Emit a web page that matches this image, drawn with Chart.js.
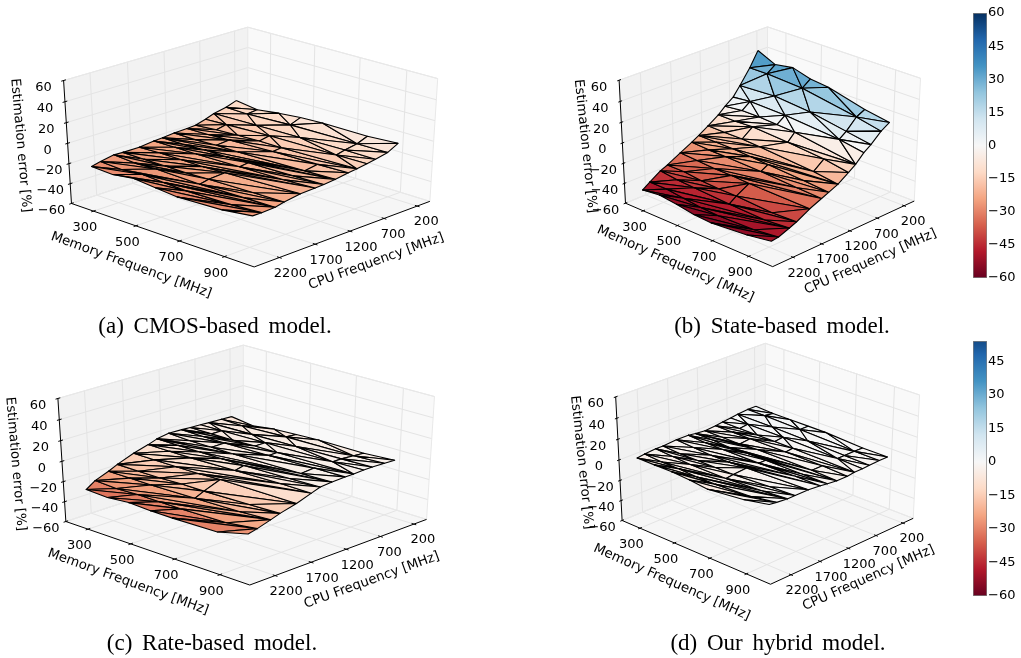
<!DOCTYPE html>
<html><head><meta charset="utf-8">
<style>html,body{margin:0;padding:0;background:#fff;overflow:hidden}canvas{position:absolute;display:block}</style>
<script src="https://cdn.jsdelivr.net/npm/chart.js@4/dist/chart.umd.min.js"></script>
</head><body>
<canvas id="main" width="1021" height="658" style="left:0;top:0"></canvas>
<canvas id="cb1" style="left:973px;top:3px"></canvas>
<canvas id="cb2" style="left:973px;top:331px"></canvas>
<script>
const cpuLevels=[200,350,530,655,800,923,1109,1274,1398,1604,1831,1955,2141,2265];
const memLevels=[200,300,400,500,600,800,933];
const rowMask=["1111111","1101011","1010111","1101011","1111101","1110111","1111011","1111111","1110111","1111101","1111111","1110111","1111111","1111111"];
const fanSpan=[1,1,1,1,2,2,3,2,3,2,2,3,2];
const zCmos=[[-9,-12,-9,-7,-6,-6,-4],[-12.5,-13,-12,-11,-10,-10,-9.5],[-15,-15,-14,-13,-13,-12,-12],[-18,-17,-16,-15,-15,-14,-13.5],[-21,-19,-18,-17,-17,-16,-15],[-21.5,-21,-20,-19,-18,-17,-16],[-22,-22,-21,-21,-20,-19,-18],[-23,-23,-22,-22,-21,-20,-19],[-23.5,-23,-23,-23,-22,-21,-19.5],[-25,-24,-24,-24,-23,-22,-20],[-25,-25,-25,-25,-24,-23,-22.5],[-24.5,-26,-25,-26,-26,-25,-24.5],[-27,-28,-26,-27,-28,-27,-25],[-29,-30,-27,-29,-31,-29,-25]];
const zState=[[41,33,36,31,29,20,16],[27,27,26,25,23,16,11],[13,14,15,13,12,6,2],[4,6,6,5,5,1,-3],[-2,0,0,-1,-2,-7,-11],[-8,-8,-7,-8,-9,-12,-16],[-15,-15,-15,-16,-16,-20,-23],[-21,-21,-21,-22,-23,-25,-27],[-25,-26,-26,-26,-27,-29,-30],[-31,-32,-33,-33,-34,-35,-35],[-38,-38,-40,-41,-41,-43,-42],[-41,-43,-44,-46,-46,-47,-45],[-48,-48,-50,-52,-53,-52,-49],[-53,-51,-53,-56,-57,-54,-50]];
const zRate=[[-7,-10,-7,-6,-5,-5,-3],[-6.5,-7,-6,-5,-5,-4,-2.5],[-6,-6,-5,-5,-4,-3,-2],[-5.5,-5,-5,-4,-4,-3,-2],[-5,-5,-5,-4,-4,-3,-2.5],[-4.5,-5,-5,-5,-4,-3,-2.5],[-4,-5,-5,-5,-5,-4,-3],[-6,-6,-6,-6,-6,-5,-4],[-9,-9,-9,-9,-8,-7,-7],[-13,-13,-13,-13,-12,-12,-12],[-19,-19,-19,-18,-18,-17,-16],[-23,-23,-23,-23,-22,-21,-19],[-28,-29,-28,-28,-28,-27,-23],[-34,-35,-33,-34,-34,-33,-25]];
const zHybrid=[[2,1,1,1,1,-1,-1],[2,2,1,1,0,-1,-1],[1,1,1,0,0,-1,-1.5],[0,0,0,0,-1,-1,-2],[-1,-1,-1,-1,-1,-2,-2],[-2,-2,-2,-2,-2,-2,-3],[-3,-3,-3,-2,-2,-2,-3],[-2,-2,-3,-2,-2,-2,-2],[-1,-2,-2,-2,-2,-1,-1],[-1,-2,-3,-3,-2,-1,0],[-2,-3,-3,-3,-3,-1,0],[-2,-3,-4,-4,-4,-2,0],[-3,-4,-4,-5,-5,-3,1],[-4,-4,-4,-5,-7,-3,2]];
const zTicks=[60,40,20,0,-20,-40,-60];
const memTicks=[300,500,700,900];
const cpuTicks=[200,700,1200,1700,2200];
const cbTicks=[60,45,30,15,0,-15,-30,-45,-60];
const captions=["(a) CMOS-based model.","(b) State-based model.","(c) Rate-based model.","(d) Our hybrid model."];
const rdbu=["#67001f","#b2182b","#d6604d","#f4a582","#fddbc7","#f7f7f7","#d1e5f0","#92c5de","#4393c3","#2166ac","#053061"];

const CPU_LIM=[7,2545],MEM_LIM=[194,1029],Z_LIM=[-60,60];
const EL=30*Math.PI/180,AZ=44*Math.PI/180,DIST=10,KZ=0.86;
const panels=[
 {z:zCmos,cx:250.85,cy:142.3,sx:258.9,sy:164.9,cap:[215,327],zOff:[-47,3.5],mOff:[-31.6,30],cOff:[34.2,27.3],ang:[85,20,-20]},
 {z:zState,cx:770,cy:142,sx:208.6,sy:164.9,cap:[782,327],zOff:[-37,4.5],mOff:[-23.7,29],cOff:[27,28],ang:[84,24,-24]},
 {z:zRate,cx:246.4,cy:460.3,sx:260.6,sy:165,cap:[212,644],zOff:[-46.4,4],mOff:[-29.7,28.7],cOff:[33.7,28],ang:[85,20,-20]},
 {z:zHybrid,cx:767.8,cy:459,sx:210.3,sy:165.7,cap:[778,644],zOff:[-37.3,3.7],mOff:[-24.5,30],cOff:[26.7,26.7],ang:[84,24,-24]}
];
function hex(c){return [1,3,5].map(i=>parseInt(c.substr(i,2),16));}
function cmap(t){t=Math.max(0,Math.min(1,t))*(rdbu.length-1);const i=Math.min(Math.floor(t),rdbu.length-2),f=t-i,a=hex(rdbu[i]),b=hex(rdbu[i+1]);
 return `rgb(${a.map((v,k)=>Math.round(v+(b[k]-v)*f)).join(",")})`;}
const zColor=v=>cmap((v-Z_LIM[0])/(Z_LIM[1]-Z_LIM[0]));
const R=[-Math.sin(AZ),Math.cos(AZ),0],U=[-Math.sin(EL)*Math.cos(AZ),-Math.sin(EL)*Math.sin(AZ),Math.cos(EL)],N=[Math.cos(EL)*Math.cos(AZ),Math.cos(EL)*Math.sin(AZ),Math.sin(EL)];
const dot=(a,b)=>a[0]*b[0]+a[1]*b[1]+a[2]*b[2];
function world(cpu,mem,z){return [(cpu-CPU_LIM[0])/(CPU_LIM[1]-CPU_LIM[0])-.5,(mem-MEM_LIM[0])/(MEM_LIM[1]-MEM_LIM[0])-.5,KZ*((z-Z_LIM[0])/(Z_LIM[1]-Z_LIM[0])-.5)];}
function project(p,cpu,mem,z){const w=world(cpu,mem,z),f=DIST/(DIST-dot(w,N));return {x:p.cx+p.sx*f*dot(w,R),y:p.cy-p.sy*f*dot(w,U)};}
function depth(cpu,mem,z){return dot(world(cpu,mem,z),N);}

const datasets=[],texts=[];
function poly(points,fillColor,lineColor,lw){datasets.push({data:points,showLine:true,tension:0,pointRadius:0,pointHoverRadius:0,borderColor:lineColor||'rgba(0,0,0,0)',borderWidth:lw||0,surfaceFill:fillColor||null,borderJoinStyle:'round'});}
const cMin=CPU_LIM[0],cMax=CPU_LIM[1],mMin=MEM_LIM[0],mMax=MEM_LIM[1],zMin=Z_LIM[0],zMax=Z_LIM[1];
function triangles(){const tris=[];const rows=rowMask.map(s=>[...s].map((c,i)=>c==='1'?i:-1).filter(i=>i>=0));
 for(let r=0;r<rows.length-1;r++){const A=rows[r],B=rows[r+1],span=fanSpan[r];let a=0,b=0;
  while(a<A.length-1||b<B.length-1){
   const canA=a<A.length-1,canB=b<B.length-1;
   if(canA&&(!canB||A[a+1]<=B[b]+span)){tris.push([[r,A[a]],[r,A[a+1]],[r+1,B[b]]]);a++;}
   else{tris.push([[r,A[a]],[r+1,B[b+1]],[r+1,B[b]]]);b++;}}}
 return tris;}
const TRIS=triangles();
panels.forEach((p,idx)=>{
 const P=(c,m,z)=>project(p,c,m,z);
 poly([P(cMin,mMin,zMin),P(cMax,mMin,zMin),P(cMax,mMin,zMax),P(cMin,mMin,zMax),P(cMin,mMin,zMin)],'#f2f2f2');
 poly([P(cMin,mMin,zMin),P(cMin,mMax,zMin),P(cMin,mMax,zMax),P(cMin,mMin,zMax),P(cMin,mMin,zMin)],'#f9f9f9');
 poly([P(cMin,mMin,zMin),P(cMax,mMin,zMin),P(cMax,mMax,zMin),P(cMin,mMax,zMin),P(cMin,mMin,zMin)],'#f6f6f6');
 const gc='#e4e4e4';
 zTicks.forEach(z=>{poly([P(cMax,mMin,z),P(cMin,mMin,z),P(cMin,mMax,z)],null,gc,1);});
 memTicks.forEach(m=>{poly([P(cMax,m,zMin),P(cMin,m,zMin),P(cMin,m,zMax)],null,gc,1);});
 cpuTicks.forEach(c=>{poly([P(c,mMax,zMin),P(c,mMin,zMin),P(c,mMin,zMax)],null,gc,1);});
 poly([P(cMax,mMin,zMin),P(cMin,mMin,zMin),P(cMin,mMin,zMax)],null,'#e8e8e8',1);
 poly([P(cMax,mMin,zMax),P(cMin,mMin,zMax),P(cMin,mMax,zMax)],null,'#e8e8e8',1);
 poly([P(cMin,mMax,zMin),P(cMin,mMax,zMax)],null,'#e8e8e8',1);
 poly([P(cMin,mMax,zMin),P(cMin,mMin,zMin),P(cMax,mMin,zMin)],null,'#e8e8e8',1);
 poly([P(cMax,mMin,zMax),P(cMax,mMin,zMin),P(cMax,mMax,zMin),P(cMin,mMax,zMin)],null,'#000',1);
 const dC=(cMax-cMin)*.012,dM=(mMax-mMin)*.012;
 zTicks.forEach(z=>poly([P(cMax+dC,mMin,z),P(cMax-dC,mMin,z)],null,'#000',1));
 memTicks.forEach(m=>poly([P(cMax+dC,m,zMin),P(cMax-dC,m,zMin)],null,'#000',1));
 cpuTicks.forEach(c=>poly([P(c,mMax+dM,zMin),P(c,mMax-dM,zMin)],null,'#000',1));
 const ts=TRIS.map(t=>{const v=t.map(([r,c])=>({c:cpuLevels[r],m:memLevels[c],z:p.z[r][c]}));
  return {v,d:v.reduce((s,a)=>s+depth(a.c,a.m,a.z),0)/3,mz:v.reduce((s,a)=>s+a.z,0)/3};}).sort((a,b)=>a.d-b.d);
 ts.forEach(t=>{const pts=t.v.map(a=>P(a.c,a.m,a.z));pts.push(pts[0]);
  poly(pts,zColor(t.mz),'#000',1.1);});
 const tf='13px "DejaVu Sans"',lf='13.3px "DejaVu Sans"';
 zTicks.forEach(z=>{const q=P(cMax,mMin,z);texts.push({t:String(z).replace('-','\u2212'),x:q.x-20,y:q.y+7,f:tf});});
 memTicks.forEach(m=>{const q=P(cMax,m,zMin);texts.push({t:String(m),x:q.x-8.5,y:q.y+16.5,f:tf});});
 cpuTicks.forEach(c=>{const q=P(c,mMax,zMin);texts.push({t:String(c),x:q.x+(c>1000?11:9),y:q.y+16,f:tf});});
 const a=P(cMax,mMin,zMin),b=P(cMax,mMin,zMax),f=P(cMax,mMax,zMin),r=P(cMin,mMax,zMin);
 texts.push({t:"Estimation error [%]",x:(a.x+b.x)/2+p.zOff[0],y:(a.y+b.y)/2+p.zOff[1],f:lf,r:p.ang[0]});
 texts.push({t:"Memory Frequency [MHz]",x:(a.x+f.x)/2+p.mOff[0],y:(a.y+f.y)/2+p.mOff[1],f:lf,r:p.ang[1]});
 texts.push({t:"CPU Frequency [MHz]",x:(r.x+f.x)/2+p.cOff[0],y:(r.y+f.y)/2+p.cOff[1],f:lf,r:p.ang[2]});
 texts.push({t:captions[idx],x:p.cap[0],y:p.cap[1],f:'23px "Liberation Serif"',sp:true});
});
datasets.forEach((d,i)=>{d.order=datasets.length-i;});
const surfacePlugin={id:'surfacePlugin',
 beforeDatasetDraw(chart,args){const ds=chart.data.datasets[args.index];if(!ds.surfaceFill)return;const pts=args.meta.data,c=chart.ctx;
  c.save();c.beginPath();pts.forEach((e,i)=>i?c.lineTo(e.x,e.y):c.moveTo(e.x,e.y));c.closePath();c.fillStyle=ds.surfaceFill;c.fill();c.restore();},
 afterDraw(chart){const c=chart.ctx;c.save();c.textAlign='center';c.textBaseline='middle';c.fillStyle='#000';
  texts.forEach(t=>{c.save();c.translate(t.x,t.y);if(t.r)c.rotate(t.r*Math.PI/180);c.font=t.f;
   c.letterSpacing='0px';c.wordSpacing=t.sp?'4px':'0px';c.fillText(t.t,0,0);c.restore();});c.restore();}};
const W=1021,H=658;
new Chart(document.getElementById('main'),{type:'scatter',data:{datasets},plugins:[surfacePlugin],
 options:{responsive:false,animation:false,events:[],layout:{padding:0},plugins:{legend:{display:false},tooltip:{enabled:false}},
 scales:{x:{type:'linear',display:false,min:0,max:W},y:{type:'linear',display:false,min:0,max:H,reverse:true}}}});
function colorbar(id,lim,top,bottom){const el=document.getElementById(id);el.width=48;el.height=bottom-top+20;el.style.top=(top-10)+'px';
 new Chart(el,{type:'bar',data:{labels:['c'],datasets:[{data:[lim],barPercentage:1,categoryPercentage:1,borderColor:'#808080',borderWidth:1,borderSkipped:false,
  backgroundColor(ctx){const ch=ctx.chart,ar=ch.chartArea;if(!ar)return '#fff';const g=ch.ctx.createLinearGradient(0,ar.bottom,0,ar.top);
   for(let v=lim[0];v<=lim[1];v+=6)g.addColorStop((v-lim[0])/(lim[1]-lim[0]),zColor(v));return g;}}]},
 options:{responsive:false,animation:false,events:[],layout:{padding:{top:10,bottom:10,left:0,right:0}},plugins:{legend:{display:false},tooltip:{enabled:false}},
 scales:{x:{display:false},y:{position:'right',min:lim[0],max:lim[1],border:{display:false},grid:{display:false,drawTicks:false},
  afterBuildTicks(ax){ax.ticks=cbTicks.filter(v=>v>=lim[0]&&v<=lim[1]).map(v=>({value:v}));},
  afterFit(ax){ax.width=34;},
  ticks:{padding:1,color:'#000',font:{family:'DejaVu Sans',size:13},autoSkip:false,callback:v=>String(v).replace('-','\u2212')}}}}});}
colorbar('cb1',[-60,60],13,278);
colorbar('cb2',[-60,54],341,596);
</script></body></html>
